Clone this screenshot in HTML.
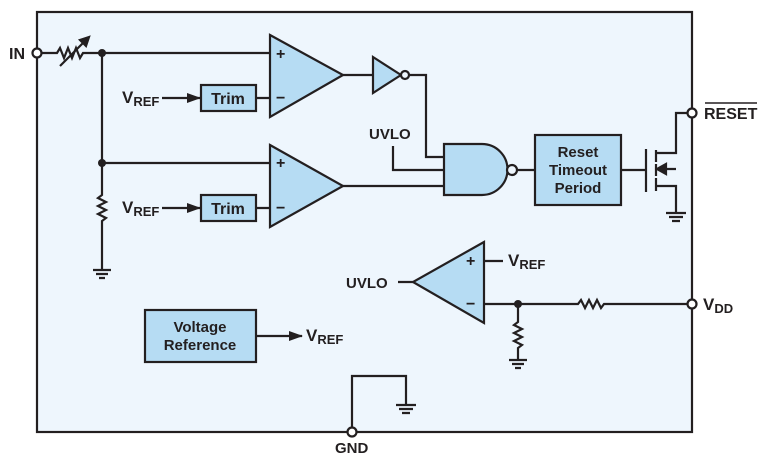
<!DOCTYPE html>
<html><head><style>body{margin:0;background:#fff}svg{display:block}text{font-family:"Liberation Sans",sans-serif;font-weight:bold;fill:#231f20}</style></head><body>
<svg width="770" height="465" viewBox="0 0 770 465" xmlns="http://www.w3.org/2000/svg">
<defs><marker id="a" markerWidth="14" markerHeight="10" refX="13" refY="5" orient="auto" markerUnits="userSpaceOnUse"><path d="M0,0L14,5L0,10z" fill="#231f20"/></marker></defs>
<g stroke="#231f20" stroke-width="2.2" fill="none">
<rect x="37" y="12" width="655" height="420" fill="#eef6fd"/>
<path d="M41,53H57l3,-5 4,10 4,-10 4,10 4,-10 4,10 3,-5H270"/>
<path d="M60,66L88,38" /><path d="M89,37l-9,3 6,6z" fill="#231f20"/>
<path d="M102,53V195l-4,3 8,4 -8,4 8,4 -8,4 8,4 -4,3V270"/>
<path d="M102,163H270"/>
<path d="M93,270h18M96,274h12M99,278h6"/>
<path d="M270,35L343,75L270,117z" fill="#b6dcf3"/>
<path d="M270,145L343,186L270,227z" fill="#b6dcf3"/>
<path d="M256,98H270M256,208H270"/>
<rect x="201" y="85" width="55" height="26" fill="#b6dcf3"/>
<rect x="201" y="195" width="55" height="26" fill="#b6dcf3"/>
<path d="M162,98H200" marker-end="url(#a)"/><path d="M162,208H200" marker-end="url(#a)"/>
<path d="M343,75H373"/>
<path d="M373,57L401,75L373,93z" fill="#b6dcf3"/>
<circle cx="405" cy="75" r="4" fill="#eef6fd"/>
<path d="M409,75H426V157H444"/>
<path d="M393,146V170H444"/>
<path d="M343,186H444"/>
<path d="M444,144H482A25.5,25.5 0 0 1 482,195H444z" fill="#b6dcf3"/>
<circle cx="512" cy="170" r="5" fill="#eef6fd"/>
<path d="M517,170H535"/>
<rect x="535" y="135" width="86" height="70" fill="#b6dcf3"/>
<path d="M621,170H646M646,149V192M656,150V162M656,164V176M656,178V191"/>
<path d="M656,153H676V113H688M656,186H676V213M676,169H665"/>
<path d="M657,169l9,-5v10z" fill="#231f20"/>
<path d="M666,213h20M669,217h14M672,221h8"/>
<circle cx="692" cy="113" r="4.5" fill="#fff"/>
<path d="M705,103H757" stroke-width="1.5"/>
<path d="M484,242L413,282L484,323z" fill="#b6dcf3"/>
<path d="M484,261H503M398,282H413"/>
<path d="M484,304H578l3,-4 4,8 4,-8 4,8 4,-8 4,8 3,-4H688"/>
<circle cx="692" cy="304" r="4.5" fill="#fff"/>
<path d="M518,304V322l-4,3 8,4 -8,4 8,4 -8,4 8,4 -4,3V360"/>
<path d="M509,360h18M512,364h12M515,368h6"/>
<rect x="145" y="310" width="111" height="52" fill="#b6dcf3"/>
<path d="M256,336H302" marker-end="url(#a)"/>
<path d="M352,428V376H406V405"/>
<path d="M396,405h20M399,409h14M402,413h8"/>
<circle cx="352" cy="432" r="4.5" fill="#fff"/>
<circle cx="37" cy="53" r="4.5" fill="#fff"/>
</g>
<g fill="#231f20"><circle cx="102" cy="53" r="4"/><circle cx="102" cy="163" r="4"/><circle cx="518" cy="304" r="4"/></g>
<text x="9" y="59" font-size="16">IN</text>
<text x="276" y="59" font-size="16">+</text><text x="276" y="103" font-size="16">−</text>
<text x="276" y="168" font-size="16">+</text><text x="276" y="213" font-size="16">−</text>
<text x="466" y="266" font-size="16">+</text><text x="466" y="309" font-size="16">−</text>
<text x="122" y="103" font-size="17">V<tspan font-size="13" dy="3">REF</tspan></text>
<text x="122" y="213" font-size="17">V<tspan font-size="13" dy="3">REF</tspan></text>
<text x="508" y="266" font-size="17">V<tspan font-size="13" dy="3">REF</tspan></text>
<text x="306" y="341" font-size="17">V<tspan font-size="13" dy="3">REF</tspan></text>
<text x="228" y="104" font-size="16" text-anchor="middle">Trim</text>
<text x="228" y="214" font-size="16" text-anchor="middle">Trim</text>
<text x="369" y="139" font-size="15">UVLO</text>
<text x="346" y="288" font-size="15">UVLO</text>
<text x="578" y="157" font-size="15" text-anchor="middle">Reset</text>
<text x="578" y="175" font-size="15" text-anchor="middle">Timeout</text>
<text x="578" y="193" font-size="15" text-anchor="middle">Period</text>
<text x="200" y="332" font-size="15" text-anchor="middle">Voltage</text>
<text x="200" y="350" font-size="15" text-anchor="middle">Reference</text>
<text x="704" y="119" font-size="16">RESET</text>
<text x="703" y="310" font-size="17">V<tspan font-size="13" dy="3">DD</tspan></text>
<text x="335" y="453" font-size="15">GND</text>
</svg>
</body></html>
